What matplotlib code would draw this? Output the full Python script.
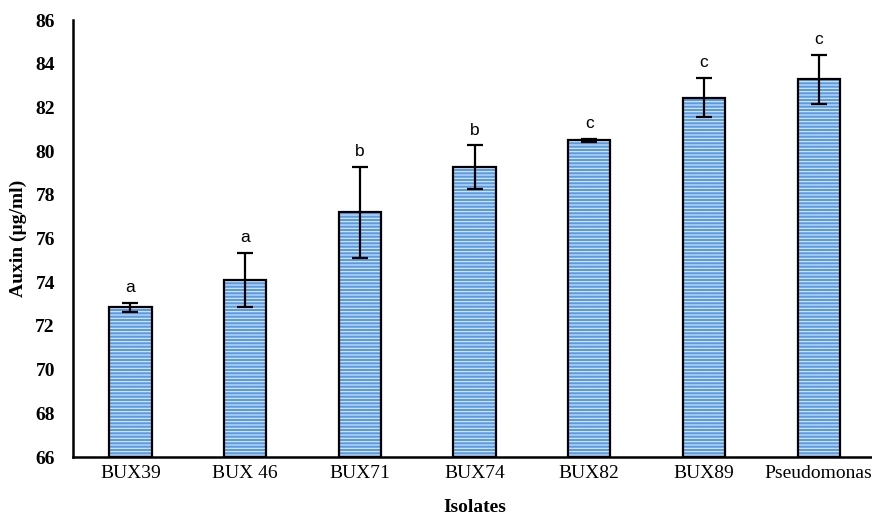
import matplotlib.pyplot as plt

plt.rcParams['font.family'] = ['Liberation Serif', 'DejaVu Serif']
plt.rcParams['hatch.linewidth'] = 0.8

isolates = ["BUX39", "BUX 46", "BUX71", "BUX74", "BUX82", "BUX89", "Pseudomonas"]
auxin = [72.85, 74.1, 77.2, 79.27, 80.5, 82.45, 83.3]
err = [0.2, 1.25, 2.1, 1.0, 0.06, 0.9, 1.12]
letters = ["a", "a", "b", "b", "c", "c", "c"]

fig = plt.figure(figsize=(8.72, 5.17), dpi=100)
ax = fig.add_axes([0.0837, 0.116, 0.921, 0.845])

x = range(len(isolates))
bottom = 66
heights = [v - bottom for v in auxin]
# blue fill with light horizontal lines
ax.bar(x, heights, bottom=bottom, width=0.37, color="#5b9ae0", edgecolor="#dcebfa",
       hatch="-----", linewidth=0, zorder=2)
# black outline
ax.bar(x, heights, bottom=bottom, width=0.37, fill=False, edgecolor="black",
       linewidth=1.6, zorder=3)
ax.errorbar(x, auxin, yerr=err, fmt="none", ecolor="black", elinewidth=1.6,
            capsize=6, capthick=1.6, zorder=4)

for i, (v, e, t) in enumerate(zip(auxin, err, letters)):
    ax.text(i, v + e + 0.35, t, ha="center", va="bottom", fontsize=12.5,
            family=["Liberation Sans", "DejaVu Sans"])

ax.set_ylim(66, 86)
ax.set_xlim(-0.5, len(isolates) - 0.5)
ax.set_yticks(range(66, 87, 2))
ax.set_xticks(list(x))
ax.set_xticklabels(isolates, fontsize=14)
for lbl in ax.get_yticklabels():
    lbl.set_fontweight("bold")
    lbl.set_fontsize(14)
ax.tick_params(axis="y", length=0, pad=13)
ax.tick_params(axis="x", length=0, pad=6)

for s in ["top", "right"]:
    ax.spines[s].set_visible(False)
for s in ["left", "bottom"]:
    ax.spines[s].set_linewidth(1.8)

ax.set_ylabel("Auxin (µg/ml)", fontsize=14, fontweight="bold", labelpad=6)
ax.set_xlabel("Isolates", fontsize=14, fontweight="bold", labelpad=12)

fig.savefig("out.png", dpi=100)
